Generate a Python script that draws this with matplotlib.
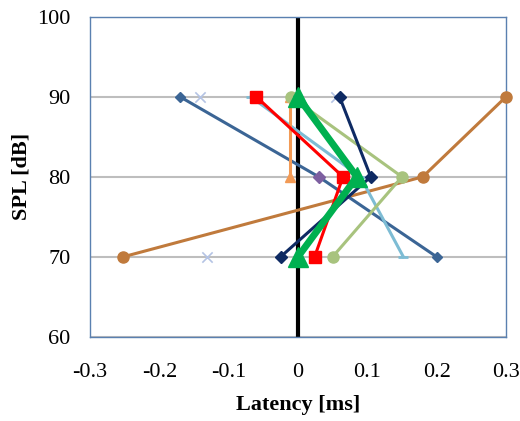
import matplotlib.pyplot as plt
import numpy as np

plt.rcParams['font.family'] = ['Liberation Serif', 'DejaVu Serif']

spl = [90, 80, 70]

# latency per series at 90, 80, 70 dB
steel_x = [-0.17, 0.03, 0.2]
lightblue_x = [-0.068, 0.09, 0.152]
red_x = [-0.06, 0.065, 0.024]
orange_x = [-0.011, -0.011]
orange_y = [90, 80]
sage_x = [-0.01, 0.15, 0.05]
navy_x = [0.06, 0.105, -0.025]
brown_x = [0.3, 0.18, -0.252]
green_x = [0.0, 0.085, 0.0]
purple_x = [0.03]
purple_y = [80]
cross_x = [-0.141, 0.055, -0.131]
cross_y = [90, 90, 70]

fig = plt.figure(figsize=(5.2, 4.21), dpi=100)
ax = fig.add_axes([0.173, 0.2, 0.8, 0.76])

ax.axvline(0, color='black', lw=3, zorder=2)

ax.plot(brown_x, spl, color='#C07A3C', lw=2.2, marker='o', ms=8, zorder=3, clip_on=False)
ax.plot(steel_x, spl, color='#3B6595', lw=2.2, marker='D', ms=5, zorder=3)
ax.plot(purple_x, purple_y, ls='none', color='#7D5FA0', marker='D', ms=6, zorder=4)
ax.scatter(cross_x, cross_y, color='#B4C3E4', marker='x', s=55, lw=1.2, zorder=3)
ax.plot(lightblue_x, spl, color='#7DBCD4', lw=2.2, marker='_', ms=7, mew=2, zorder=3)
ax.plot(orange_x, orange_y, color='#F29A55', lw=2.2, marker='^', ms=7, zorder=3)
ax.plot(sage_x, spl, color='#A8C37E', lw=2.2, marker='o', ms=8, zorder=4)
ax.plot(navy_x, spl, color='#0E2A63', lw=2.2, marker='D', ms=6, zorder=4)
ax.plot(red_x, spl, color='#FF0000', lw=2.2, marker='s', ms=9, zorder=5)
ax.plot(green_x, spl, color='#00B050', lw=5, marker='^', ms=15, zorder=6)

ax.set_xlim(-0.3, 0.3)
ax.set_ylim(60, 100)
ax.set_xticks(np.arange(-0.3, 0.31, 0.1))
ax.set_xticklabels(['-0.3', '-0.2', '-0.1', '0', '0.1', '0.2', '0.3'])
ax.set_yticks([60, 70, 80, 90, 100])
ax.yaxis.grid(True, color='#BEBEBE', lw=1.5)
ax.set_axisbelow(True)
ax.tick_params(length=0, labelsize=16)
ax.tick_params(axis='x', pad=19)
ax.tick_params(axis='y', pad=14)
for s in ax.spines.values():
    s.set_color('#5A80B0')
    s.set_linewidth(1)

ax.set_xlabel('Latency [ms]', fontsize=16, fontweight='bold', labelpad=9)
ax.set_ylabel('SPL [dB]', fontsize=16, fontweight='bold', labelpad=4)

fig.savefig('out.png', dpi=100)
